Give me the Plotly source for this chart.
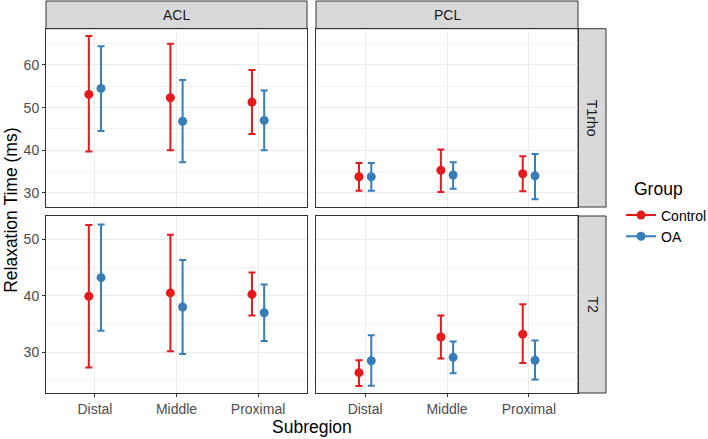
import plotly.graph_objects as go

# ---------------- data ----------------
subregions = ["Distal", "Middle", "Proximal"]
groups = ["Control", "OA"]
ligaments = ["ACL", "PCL"]
measures = ["T1rho", "T2"]

# mean, lower, upper  (per subregion)
acl_t1rho_control_mean = [53.1, 52.3, 51.3]
acl_t1rho_control_low = [39.7, 40.0, 43.8]
acl_t1rho_control_high = [66.8, 65.0, 58.8]
acl_t1rho_oa_mean = [54.5, 46.8, 47.0]
acl_t1rho_oa_low = [44.5, 37.2, 40.0]
acl_t1rho_oa_high = [64.4, 56.5, 54.0]

pcl_t1rho_control_mean = [33.8, 35.3, 34.5]
pcl_t1rho_control_low = [30.5, 30.2, 30.4]
pcl_t1rho_control_high = [37.0, 40.2, 38.6]
pcl_t1rho_oa_mean = [33.8, 34.2, 34.0]
pcl_t1rho_oa_low = [30.5, 31.0, 28.5]
pcl_t1rho_oa_high = [37.0, 37.2, 39.1]

acl_t2_control_mean = [39.9, 40.5, 40.25]
acl_t2_control_low = [27.3, 30.2, 36.5]
acl_t2_control_high = [52.5, 50.8, 44.1]
acl_t2_oa_mean = [43.2, 38.0, 37.0]
acl_t2_oa_low = [33.8, 29.7, 32.0]
acl_t2_oa_high = [52.6, 46.3, 42.0]

pcl_t2_control_mean = [26.4, 32.7, 33.2]
pcl_t2_control_low = [24.05, 28.9, 28.1]
pcl_t2_control_high = [28.6, 36.5, 38.5]
pcl_t2_oa_mean = [28.5, 29.1, 28.6]
pcl_t2_oa_low = [24.1, 26.3, 25.2]
pcl_t2_oa_high = [33.0, 31.9, 32.1]

y_ticks_t1rho = [30, 40, 50, 60]
y_ticks_t2 = [30, 40, 50]

# ---------------- style ----------------
W, H = 708, 439
colors = {"Control": "#E41A1C", "OA": "#377EB8"}
dodge = {"Control": -0.075, "OA": 0.075}
FONT = "Liberation Sans, Arial, sans-serif"
TICK_SIZE = 14
TITLE_SIZE = 17.5

def px_x(p):
    return p / W

def px_y(p):
    return 1 - p / H

col_dom = [(px_x(46), px_x(307)), (px_x(316), px_x(578))]
row_dom = [(px_y(207), px_y(28.7)), (px_y(393), px_y(216))]
row_range = [[26.7, 68.5], [22.8, 54.1]]
row_ticks = [y_ticks_t1rho, y_ticks_t2]

panel_data = {
    ("T1rho", "ACL"): {
        "Control": (acl_t1rho_control_mean, acl_t1rho_control_low, acl_t1rho_control_high),
        "OA": (acl_t1rho_oa_mean, acl_t1rho_oa_low, acl_t1rho_oa_high)},
    ("T1rho", "PCL"): {
        "Control": (pcl_t1rho_control_mean, pcl_t1rho_control_low, pcl_t1rho_control_high),
        "OA": (pcl_t1rho_oa_mean, pcl_t1rho_oa_low, pcl_t1rho_oa_high)},
    ("T2", "ACL"): {
        "Control": (acl_t2_control_mean, acl_t2_control_low, acl_t2_control_high),
        "OA": (acl_t2_oa_mean, acl_t2_oa_low, acl_t2_oa_high)},
    ("T2", "PCL"): {
        "Control": (pcl_t2_control_mean, pcl_t2_control_low, pcl_t2_control_high),
        "OA": (pcl_t2_oa_mean, pcl_t2_oa_low, pcl_t2_oa_high)},
}

fig = go.Figure()
layout = {}
idx = 0
for r, meas in enumerate(measures):
    for c, lig in enumerate(ligaments):
        idx += 1
        xa = "x" if idx == 1 else f"x{idx}"
        ya = "y" if idx == 1 else f"y{idx}"
        for g in groups:
            mean, low, high = panel_data[(meas, lig)][g]
            xs = [i + 1 + dodge[g] for i in range(len(subregions))]
            fig.add_trace(go.Scatter(
                x=xs, y=mean, mode="markers",
                marker=dict(color=colors[g], size=9),
                error_y=dict(type="data", symmetric=False,
                             array=[h - m for h, m in zip(high, mean)],
                             arrayminus=[m - l for m, l in zip(mean, low)],
                             color=colors[g], thickness=2, width=3.5),
                xaxis=xa, yaxis=ya, showlegend=False, hoverinfo="skip"))
        layout["xaxis" if idx == 1 else f"xaxis{idx}"] = dict(
            domain=col_dom[c], anchor=ya, range=[0.4, 3.6],
            tickvals=[1, 2, 3], ticktext=subregions if r == 1 else ["", "", ""],
            showticklabels=(r == 1), ticks="outside" if r == 1 else "",
            ticklen=3, tickcolor="#333333",
            showgrid=True, gridcolor="#EBEBEB", gridwidth=1.2,
            showline=True, mirror=True, linecolor="#333333", linewidth=1,
            zeroline=False, fixedrange=True, automargin=False,
            tickfont=dict(family=FONT, size=TICK_SIZE, color="#4D4D4D"))
        layout["yaxis" if idx == 1 else f"yaxis{idx}"] = dict(
            domain=row_dom[r], anchor=xa, range=row_range[r],
            tickvals=row_ticks[r], showticklabels=(c == 0),
            ticks="outside" if c == 0 else "", ticklen=3, tickcolor="#333333",
            showgrid=True, gridcolor="#EBEBEB", gridwidth=1.2,
            minor=dict(dtick=5, tick0=25, showgrid=True, gridcolor="#F2F2F2", gridwidth=0.6),
            showline=True, mirror=True, linecolor="#333333", linewidth=1,
            zeroline=False, fixedrange=True, automargin=False,
            tickfont=dict(family=FONT, size=TICK_SIZE, color="#4D4D4D"))

# legend traces
for g in groups:
    fig.add_trace(go.Scatter(x=[None], y=[None], mode="lines+markers", name=g,
                             marker=dict(color=colors[g], size=9),
                             line=dict(color=colors[g], width=2),
                             xaxis="x", yaxis="y", showlegend=True))

shapes = []
annotations = []
# top strips
for c, lig in enumerate(ligaments):
    x0, x1 = col_dom[c]
    shapes.append(dict(type="rect", xref="paper", yref="paper", x0=x0, x1=x1,
                       y0=px_y(28.7), y1=px_y(1), fillcolor="#D9D9D9",
                       line=dict(color="#333333", width=1), layer="below"))
    annotations.append(dict(text=lig, xref="paper", yref="paper", x=(x0 + x1) / 2,
                            y=(px_y(28.7) + px_y(1)) / 2, showarrow=False,
                            xanchor="center", yanchor="middle",
                            font=dict(family=FONT, size=TICK_SIZE, color="#1A1A1A")))
# right strips
for r, meas in enumerate(measures):
    y0, y1 = row_dom[r]
    shapes.append(dict(type="rect", xref="paper", yref="paper", x0=px_x(578), x1=px_x(606),
                       y0=y0, y1=y1, fillcolor="#D9D9D9",
                       line=dict(color="#333333", width=1), layer="below"))
    annotations.append(dict(text=meas, xref="paper", yref="paper", x=(px_x(578) + px_x(606)) / 2,
                            y=(y0 + y1) / 2, showarrow=False, textangle=90,
                            xanchor="center", yanchor="middle",
                            font=dict(family=FONT, size=TICK_SIZE, color="#1A1A1A")))

annotations.append(dict(text="Relaxation Time (ms)", xref="paper", yref="paper",
                        x=px_x(11), y=(row_dom[1][0] + row_dom[0][1]) / 2, showarrow=False,
                        textangle=-90, xanchor="center", yanchor="middle",
                        font=dict(family=FONT, size=TITLE_SIZE, color="#000000")))
annotations.append(dict(text="Subregion", xref="paper", yref="paper",
                        x=(col_dom[0][0] + col_dom[1][1]) / 2, y=px_y(427), showarrow=False,
                        xanchor="center", yanchor="middle",
                        font=dict(family=FONT, size=TITLE_SIZE, color="#000000")))
# legend title
annotations.append(dict(text="Group", xref="paper", yref="paper",
                        x=px_x(632), y=px_y(189), showarrow=False,
                        xanchor="left", yanchor="middle",
                        font=dict(family=FONT, size=TITLE_SIZE, color="#000000")))

fig.update_layout(
    width=W, height=H, margin=dict(l=0, r=0, t=0, b=0, autoexpand=False),
    paper_bgcolor="white", plot_bgcolor="white",
    shapes=shapes, annotations=annotations,
    legend=dict(x=px_x(621), y=px_y(199.5), xanchor="left", yanchor="top",
                font=dict(family=FONT, size=TICK_SIZE, color="#000000"),
                itemwidth=30, tracegroupgap=0, bgcolor="rgba(0,0,0,0)"),
    **layout)

fig.write_html("out.html", config={"displayModeBar": False},
               post_script="document.body.style.margin='0px';document.body.style.padding='0px';")
